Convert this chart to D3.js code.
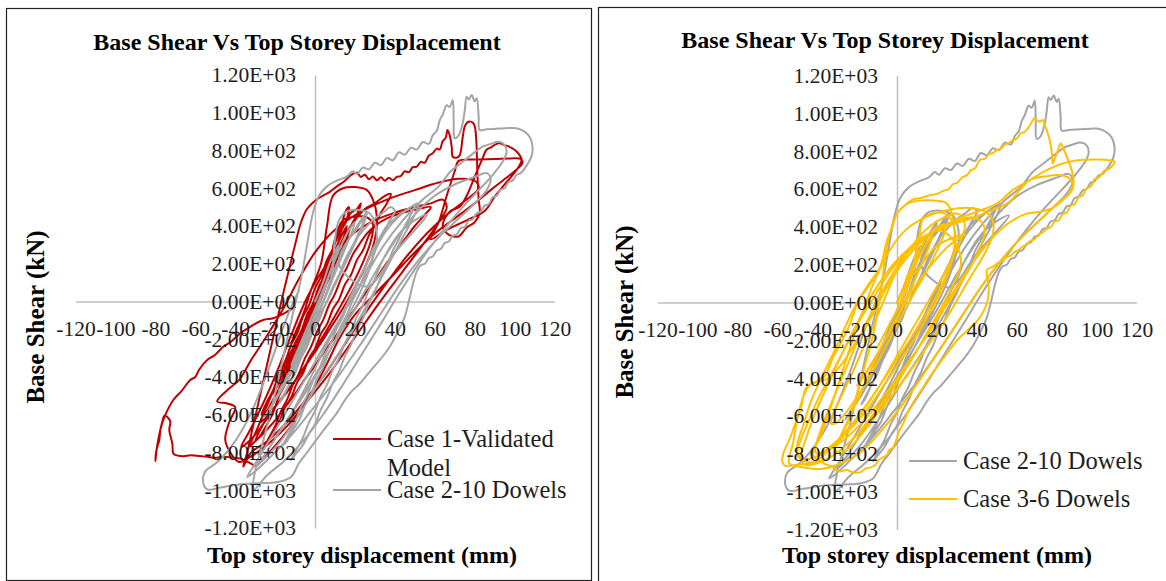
<!DOCTYPE html>
<html><head><meta charset="utf-8">
<script src="https://cdn.jsdelivr.net/npm/d3@7"></script>
<style>
body{margin:0;background:#fff}
svg{display:block}
text{font-family:"Liberation Serif","Times New Roman",serif}
</style>
</head><body>
<svg id="c" width="1166" height="581"></svg>
<script>
// ---------------- data ----------------
const chartTitle = "Base Shear Vs Top Storey Displacement";
const xAxisTitle = "Top storey displacement (mm)";
const yAxisTitle = "Base Shear (kN)";
const xTicks = [-120,-100,-80,-60,-40,-20,0,20,40,60,80,100,120];
const yTicks = [1200,1000,800,600,400,200,0,-200,-400,-600,-800,-1000,-1200];
const seriesNames = ["Case 1-Validated Model","Case 2-10 Dowels","Case 3-6 Dowels"];

// Case 1 - Validated Model (displacement mm, base shear kN)
const case1 = [
[0,0],[4,120],[8,250],[6,160],[0,0],[-6,-150],[-10,-260],[-6,-170],[0,-20],
[6,160],[12,320],[16,400],[13,300],[6,120],[-2,-80],[-10,-240],[-16,-360],[-20,-420],[-15,-330],[-8,-180],[0,0],
[3,90],[5,170],[8,240],[10,330],[13,390],[15,470],[17,500],[16,440],[13,370],[11,290],[8,230],[5,140],[2,80],[-1,-10],[-4,-70],[-7,-160],[-10,-220],[-13,-310],[-16,-370],[-19,-450],[-22,-500],[-25,-570],[-27,-600],[-24,-530],[-21,-470],[-18,-380],[-15,-320],[-12,-230],[-9,-170],[-6,-80],[-3,-20],[0,70],[3,130],[6,220],[9,280],[12,360],
[15,410],[18,470],[21,490],[23,520],[21,460],[18,400],[15,310],[12,250],[9,160],[6,100],[3,10],[0,-50],[-3,-140],[-6,-200],[-9,-290],[-12,-350],[-15,-440],[-18,-500],[-21,-590],[-24,-650],[-28,-720],[-30,-740],[-27,-670],[-24,-610],[-21,-520],[-18,-460],[-15,-370],[-12,-310],[-9,-220],[-6,-160],[-3,-70],[0,-10],[3,80],[6,140],[9,230],[12,290],[16,370],[20,430],[25,490],[30,520],[35,560],[38,570],
[36,520],[33,470],[30,400],[27,350],[24,270],[21,220],[18,140],[15,90],[12,10],[9,-40],[6,-120],[3,-170],[0,-250],[-3,-300],[-6,-380],[-9,-430],[-12,-510],[-15,-560],[-18,-640],[-21,-690],[-24,-750],[-26,-780],[-23,-720],[-20,-660],[-17,-580],[-14,-520],[-11,-440],[-8,-380],[-5,-300],[-2,-240],[1,-160],[4,-100],[7,-20],[10,40],[13,120],[16,180],[19,250],[22,300],[26,360],[30,400],[36,440],[44,470],[52,490],[58,500],
[55,460],[50,400],[45,330],[40,260],[35,190],[30,110],[25,40],[20,-40],[15,-110],[10,-190],[5,-260],[0,-340],[-5,-410],[-10,-490],[-15,-560],[-20,-630],[-25,-690],[-30,-740],[-33,-770],[-30,-700],[-26,-600],[-22,-500],[-18,-390],[-14,-290],[-10,-170],[-6,-70],[-2,60],
[3,200],[6,400],[9,560],[14,600],[20,606],[26,590],[29,540],[31,450],[30,330],[25,180],[16,0],[6,-170],[-4,-330],[-14,-480],[-22,-580],[-27,-640],[-23,-560],[-16,-420],[-9,-250],[-2,-60],[6,140],
[10,330],[14,430],[20,450],[26,446],[29,410],[28,320],[22,160],[12,-40],[2,-220],[-8,-390],[-18,-530],[-26,-650],[-32,-730],[-37,-770],[-33,-690],[-26,-540],[-19,-370],[-12,-180],[-4,20],[6,200],[16,330],[28,420],[40,470],[50,500],[58,520],[64,540],
[66,500],[62,420],[54,300],[44,160],[32,-10],[20,-190],[8,-370],[-4,-530],[-14,-660],[-24,-760],[-32,-820],[-38,-850],
[-43,-790],[-45,-730],[-43,-640],[-40,-560],[-44,-540],[-49,-530],[-44,-470],[-38,-415],[-32,-310],[-24,-180],[-16,-40],[-8,120],[0,260],[10,380],[22,470],[36,540],[50,590],[62,630],[72,650],[80,640],[82,600],[76,540],[66,460],[56,360],[46,240],[36,100],[26,-50],[16,-210],[6,-370],[-4,-510],[-14,-640],[-24,-740],[-32,-800],[-36,-875],[-34,-800],
[-31,-660],[-28,-520],[-25,-380],[-22,-240],[-19,-100],[-16,40],[-13,170],[-10,300],[-7,420],[-4,490],[-1,525],[3,555],[7,578],[11,610],[15,640],[18,670],[21,682],
[23,660],[25,672],[27,648],[29,662],[31,642],[33,658],[35,640],[37,655],[39,642],[41,660],[43,665],[45,690],[47,685],[49,712],[51,714],[53,740],[55,735],[57,772],[59,785],[61,810],[62.5,805],[64,850],[65.5,868],[66.4,909],[67.5,880],[68.5,820],[69,767],[71,762],[72.5,775],[74,870],[75,926],[76.5,950],[78,953],[79,948],[80,930],[80.8,856],[81.2,740],[81.5,644],[82,540],[82.5,468],[80,420],[76,392],[72,345],[69,345],[66,362],[64,396],[65,440],[68,480],[72.5,502],[76,560],[80,660],[84,760],[86,805],[88,815],[90,830],[92.5,838],[95,828],[97,822],[101,795],[103.5,752],[102,712],[99,670],[95,620],[90,555],[85,480],[76,430],[66,380],[58,330],
[62,420],[66,560],[70,690],[72,745],[80,752],[90,755],[98,758],[103,755],[104,735],[100,690],[94,640],[88,590],[80,520],[70,440],[60,360],[50,260],[40,150],[30,40],[20,-70],[12,-200],[6,-330],[0,-450],[-6,-560],[-12,-660],[-18,-740],[-23,-800],[-27,-840],[-29.5,-872],[-32.5,-856],[-37.5,-832],[-42,-826],[-46,-822],[-50,-828],[-54,-822],[-58,-818],[-62.5,-815],[-66,-820],[-70,-813],[-71,-805],[-71.5,-752],[-73,-681],[-72.5,-637],[-74,-612],[-75.5,-605],[-76.5,-637],[-77.5,-681],[-78,-734],[-79.5,-790],[-80,-845],[-79,-760],[-77,-660],[-75,-601],[-71,-522],[-67,-476],[-62.5,-416],[-60,-400],[-58,-360],[-54,-310],[-50,-282],[-46,-240],[-42,-212],[-37.5,-169],[-32.5,-134],[-26,-98],[-21,-89],[-15,-60],[-10,-30]
];

// Case 2 - 10 Dowels
const case2 = [
[0,0],[4,100],[8,220],[12,300],[9,200],[4,40],[-2,-120],[-8,-260],[-12,-340],[-8,-240],[-2,-90],[4,60],
[10,220],[16,360],[20,420],[17,330],[10,150],[2,-60],[-6,-240],[-14,-400],[-18,-470],[-13,-380],[-5,-200],[4,0],
[8,120],[11,200],[14,260],[17,330],[20,370],[23,420],[25,440],[23,390],[20,320],[17,260],[14,180],[11,120],[8,40],[5,-20],[2,-100],[-1,-160],[-4,-240],[-7,-300],[-10,-380],[-13,-440],[-16,-510],[-18,-540],[-15,-480],[-12,-420],[-9,-340],[-6,-280],[-3,-200],[0,-140],[3,-60],[6,0],[9,80],[12,140],[15,220],[18,280],[22,350],[26,400],[30,440],
[34,470],[38,500],[40,480],[37,420],[34,350],[31,290],[28,210],[25,150],[22,70],[19,10],[16,-70],[13,-130],[10,-210],[7,-270],[4,-350],[1,-410],[-2,-490],[-5,-550],[-8,-630],[-11,-680],[-14,-740],[-16,-760],[-13,-700],[-10,-640],[-7,-560],[-4,-500],[-1,-420],[2,-360],[5,-280],[8,-220],[11,-140],[14,-80],[17,0],[20,60],[23,140],[26,200],[29,280],[32,330],[36,400],[40,440],[45,480],[50,510],
[48,460],[45,400],[42,330],[39,270],[36,190],[33,130],[30,50],[27,-10],[24,-90],[21,-150],[18,-230],[15,-290],[12,-370],[9,-430],[6,-510],[3,-570],[0,-650],[-3,-700],[-6,-760],[-9,-800],[-12,-840],[-9,-780],[-6,-720],[-3,-640],[0,-580],[3,-500],[6,-440],[9,-360],[12,-300],[15,-220],[18,-160],[21,-80],[24,-20],[27,60],[30,120],[33,200],[36,260],[40,330],[44,380],[50,430],[56,460],
[40,260],[26,80],[12,200],[20,380],[26,470],[24,400],[16,220],[6,0],[-4,-220],[-14,-420],[-22,-560],[-26,-620],[-20,-520],[-10,-320],[0,-100],[8,120],
[10,330],[12,430],[16,478],[22,485],[27,470],[30,420],[31,340],[29,230],[24,80],[16,-90],[6,-290],[-4,-470],[-14,-630],[-20,-720],[-15,-650],[-6,-480],[4,-270],[14,-60],[22,120],[30,280],[36,380],[42,450],[48,500],
[52,520],[50,460],[44,340],[36,180],[26,-20],[14,-240],[2,-430],[-8,-600],[-18,-750],[-26,-840],[-30,-880],[-25,-810],[-16,-660],[-4,-460],[8,-250],[20,-40],[30,150],[40,320],[50,460],[60,560],[70,620],[80,660],[86,680],[88,650],[86,590],[80,520],[72,440],[62,340],[52,220],[42,80],[32,-80],[22,-240],[10,-420],[-2,-580],[-12,-710],[-22,-820],[-30,-900],[-34,-930],[-30,-860],[-22,-720],[-12,-540],[0,-320],[12,-100],[24,110],[34,290],[44,430],[54,540],[62,610],
[68,690],[74,740],[80,790],[84,820],[88,835],[92,846],[95,830],[96,790],[94,740],[89,670],[82,590],[74,500],[66,400],[58,290],[50,170],[42,40],[34,-100],[24,-270],[14,-440],[4,-600],[-6,-740],[-16,-850],[-24,-920],[-31,-1000],[-30,-900],[-27,-780],[-23,-620],[-19,-440],[-15,-250],[-11,-60],[-7,120],[-4,300],[-1,470],[2,560],[6,610],[11,640],[16,662],
[19,690],[21,675],[24,710],[27,700],[30,735],[33,722],[36,760],[39,748],[42,790],[45,778],[48,815],[51,805],[54,845],[57,835],[59,880],[61,905],[62.5,960],[64,990],[66,1040],[67.5,1030],[69,1068],[69.5,960],[70,865],[72,880],[74,944],[75,1010],[76,1085],[77,1070],[78.5,1094],[80,1060],[81,1077],[82,980],[82.5,909],[86,912],[92,916],[97,919],[101,918],[105,900],[107.5,873],[109,820],[108.5,770],[106,720],
[103,680],[101,672],[99,640],[97,633],[95,600],[93,592],[91,560],[89,552],[87,515],[85,508],[83,475],[81,468],[79,435],[77,428],[75,395],[73,388],[71,355],[69,348],[67,318],[65,310],[63,278],[61,270],[59,238],[57,230],[55,200],[53,192],[51,160],[49,90],[47,0],[45,-80],[42,-150],[38,-230],[34,-290],[30,-340],[26,-390],[22,-440],[18,-480],[14.5,-530],[11,-590],[7,-645],[3,-700],[-0.5,-750],[-4,-800],[-8,-856],[-12,-930],[-18,-955],[-26,-962],[-33,-965],[-40,-972],[-47,-985],[-54,-995],[-56,-960],[-55,-900],[-50,-860],[-46,-820],[-42,-770],[-37,-690],[-32,-590],[-28,-490],[-24,-380],[-20,-260],[-16,-140],[-12,-30],[-8,60]
];

// Case 3 - 6 Dowels
const case3 = [
[0,0],[5,120],[10,240],[8,160],[2,0],[-5,-140],[-10,-240],[-6,-160],[0,-40],
[6,120],[12,260],[18,360],[15,270],[8,100],[0,-80],[-8,-240],[-16,-380],[-20,-440],[-15,-360],[-6,-200],[2,-40],
[4,100],[8,200],[12,290],[16,360],[20,400],[23,410],[24,380],[22,320],[18,230],[13,130],[8,40],[3,-60],[-2,-160],[-7,-260],[-12,-360],[-17,-450],[-22,-530],[-27,-600],[-31,-640],[-33,-640],[-32,-590],[-29,-520],[-25,-430],[-21,-340],[-17,-240],[-13,-150],[-9,-50],[-5,50],[-1,150],[4,240],[9,320],[14,380],
[20,430],[26,460],[30,470],[33,450],[34,400],[32,330],[28,240],[23,140],[17,30],[11,-80],[5,-190],[-1,-300],[-7,-410],[-13,-510],[-19,-600],[-25,-680],[-31,-740],[-36,-780],[-40,-800],[-41,-770],[-39,-700],[-36,-610],[-32,-510],[-28,-410],[-24,-310],[-20,-210],[-15,-100],[-10,10],[-4,120],[2,220],[9,300],[16,360],
[24,410],[32,440],[38,450],[42,430],[44,380],[42,300],[37,190],[30,70],[22,-60],[14,-190],[6,-310],[-2,-430],[-10,-540],[-18,-640],[-26,-720],[-34,-780],[-42,-820],[-48,-830],[-50,-800],[-48,-720],[-44,-620],[-40,-520],[-35,-420],[-30,-320],[-25,-220],[-19,-100],[-12,20],[-5,140],[3,250],[12,340],
[22,380],[30,300],[32,200],[28,90],[22,-30],[15,-160],[8,-290],[1,-410],[-6,-520],[-12,-620],[-18,-700],[-23,-760],[-27,-790],[-30,-795],[-31,-770],[-28,-700],[-24,-610],[-19,-500],[-14,-380],[-9,-260],[-3,-140],[3,-20],[10,100],[18,210],[26,300],[34,360],
[20,300],[8,150],[11,330],[13,440],[18,472],[24,470],[27,440],[29,380],[29,300],[26,180],[20,40],[10,-140],[0,-300],[-10,-460],[-18,-580],[-24,-660],[-28,-700],[-24,-620],[-20,-480],[-16,-330],[-12,-170],[-9,0],[-7,150],[-5,300],[-2,420],[0,470],[4,515],[8,534],[14,540],[20,538],[24,530],[26.5,500],[28,440],[29,330],[27,200],[22,60],[14,-100],[4,-270],[-6,-430],[-16,-580],[-26,-700],[-34,-780],[-40,-830],[-42,-800],[-38,-700],[-34,-580],[-30,-450],[-26,-320],[-22,-190],[-17,-40],[-11,120],[-4,270],[4,380],[14,450],[26,490],[36,500],[44,480],[48,430],[48,360],[44,260],[36,120],[26,-60],[14,-250],[2,-430],[-10,-590],[-22,-720],[-32,-810],[-40,-850],[-46,-860],[-48,-820],[-45,-700],[-40,-560],[-34,-420],[-28,-280],[-20,-110],[-12,50],[-2,200],[10,320],[24,400],[36,440],[46,480],[56,530],[62,600],[66.5,647],[75,668],[82,673],[86,660],[88,630],[87,590],[83,540],[78,500],[72,480],[65,470],[56,420],[46,320],[36,180],[26,20],[16,-150],[6,-320],[-4,-480],[-14,-620],[-24,-740],[-34,-820],[-42,-845],[-48,-830],[-50,-760],[-47,-650],[-43,-520],[-38,-400],[-32,-270],[-26,-130],[-20,0],[-14,100],[-8.5,187],[-5,329],[-2,410],[0,470],[5,523],
[8,545],[12,552],[16,566],[20,574],[23,590],[26,600],[28,625],[30,632],[33,664],[35,672],[37,700],[39,708],[41.5,753],[44,760],[46,785],[48,790],[50,806],[52,812],[54,836],[56,842],[58,859],[60,866],[62,895],[64,902],[65,912],[67,945],[69,974],[70,965],[71.5,956],[73,965],[74,940],[75,912],[76.5,859],[77.5,800],[78,735],[79,760],[80.5,800],[82,841],[83.5,810],[85.5,760],[87.5,700],[88.5,640],[88,600],[86,570],[80,520],[72,440],[62,340],[52,220],[42,80],[32,-80],[22,-240],[12,-400],[2,-550],[-8,-680],[-18,-790],[-28,-850],[-38,-880],[-48,-870],[-54,-850],[-52,-740],[-50,-620],[-47,-500],[-44,-440],[-40,-420],[-35,-403],[-28,-330],[-20,-200],[-12,-60],[-4,100],[6,250],[18,370],[30,440],[40,480],[50,523],[58,594],[66.5,647],[75,700],[83,735],[91.5,753],[101.5,756],[106,752],[109,744],
[106,705],[104,698],[101,660],[99,652],[97,612],[95,604],[93,566],[91,558],[89,520],[87,512],[85,475],[83,468],[81,435],[79,428],[77,398],[75,390],[73,370],[71,360],[69,335],[67,327],[65,305],[63,297],[61,278],[59,268],[57,248],[55,240],[53,222],[51,214],[49,196],[47,185],[45,170],[46,80],[45,-5],[40,-100],[35,-150],[30,-201],[25,-270],[20,-340],[16,-400],[12,-466],[8,-530],[5,-590],[3,-643],[1,-680],[0,-714],[-2,-767],[-4,-780],[-5,-805],[-7,-820],[-9,-830],[-11,-860],[-13.5,-873],[-16,-878],[-18,-895],[-22,-899],[-25,-885],[-28,-892],[-30,-890],[-33,-865],[-36,-855],[-38.5,-837],[-43,-850],[-48.5,-855],[-53,-862],[-56,-864],[-57.5,-840],[-57,-800],[-55.5,-760],[-53.5,-714],[-51,-640],[-48.5,-572],[-47,-500],[-46,-460],[-43,-430],[-37,-400],[-32,-290],[-28,-210],[-25,-148],[-22,-70],[-20,-7],[-16,60],[-12,120]
];

const colors = {case1:"#C00000", case2:"#A5A5A5", case3:"#FFC000"};

// ---------------- drawing ----------------
const svg = d3.select("#c");
function fmt(v){
  if (v === 0) return "0.00E+00";
  const s = v < 0 ? "-" : "";
  const a = Math.abs(v);
  const e = Math.floor(Math.log10(a));
  const m = a / Math.pow(10, e);
  return s + m.toFixed(2) + "E+" + String(e).padStart(2, "0");
}

const panels = [
  {frame:[6.5,8.5,585,572], cx:315, cy:301.5, hy:226.5, titleX:297, titleY:50,
   yTitleX:44, yTitleY:317, xTitleX:362, xTitleY:563,
   series:[{data:case1,color:colors.case1},{data:case2,color:colors.case2}],
   legend:[{y:439, ty:447, lines:["Case 1-Validated","Model"], color:colors.case1},
           {y:490, ty:498, lines:[seriesNames[1]], color:colors.case2}],
   legX:333},
  {frame:[598.5,7.5,600,580], cx:897, cy:302.5, hy:227, titleX:885, titleY:48,
   yTitleX:633, yTitleY:312, xTitleX:937, xTitleY:563,
   series:[{data:case2,color:colors.case2},{data:case3,color:colors.case3}],
   legend:[{y:461, ty:469, lines:[seriesNames[1]], color:colors.case2},
           {y:499, ty:506.5, lines:[seriesNames[2]], color:colors.case3}],
   legX:909}
];

panels.forEach(p => {
  const g = svg.append("g");
  g.append("rect").attr("x",p.frame[0]).attr("y",p.frame[1]).attr("width",p.frame[2]).attr("height",p.frame[3])
    .attr("fill","#fff").attr("stroke","#222").attr("stroke-width",1.2);

  const x = d3.scaleLinear().domain([-120,120]).range([p.cx-239.5, p.cx+239.5]);
  const y = d3.scaleLinear().domain([-1200,1200]).range([p.cy+p.hy, p.cy-p.hy]);

  // axis lines (below series)
  const axL = g.append("g");
  axL.append("g").attr("transform",`translate(${x(0)},0)`)
    .call(d3.axisLeft(y).tickValues(yTicks).tickSize(0).tickSizeOuter(0).tickFormat(""))
    .call(s => s.selectAll(".tick").remove())
    .select(".domain").attr("stroke","#BFBFBF").attr("stroke-width",1.5);
  axL.append("g").attr("transform",`translate(0,${y(0)})`)
    .call(d3.axisBottom(x).tickValues(xTicks).tickSize(0).tickSizeOuter(0).tickFormat(""))
    .call(s => s.selectAll(".tick").remove())
    .select(".domain").attr("stroke","#BFBFBF").attr("stroke-width",1.5);

  // series
  const line = d3.line().x(d => x(d[0])).y(d => y(d[1])).curve(d3.curveCatmullRom.alpha(0.5));
  p.series.forEach(s => {
    g.append("path").datum(s.data).attr("d", line)
      .attr("fill","none").attr("stroke", s.color).attr("stroke-width", 2)
      .attr("stroke-linejoin","round").attr("stroke-linecap","round");
  });

  // tick labels (above series)
  const ya = g.append("g").attr("transform",`translate(${x(0)},0)`)
    .call(d3.axisLeft(y).tickValues(yTicks).tickSize(0).tickPadding(19).tickFormat(fmt));
  ya.select(".domain").remove();
  ya.selectAll("text").attr("font-size","21.5px").attr("fill","#1e1e1e").attr("font-family",null);
  const xa = g.append("g").attr("transform",`translate(0,${y(0)})`)
    .call(d3.axisBottom(x).tickValues(xTicks).tickSize(0).tickPadding(19).tickFormat(d => String(d)));
  xa.select(".domain").remove();
  xa.selectAll("text").attr("font-size","21.5px").attr("fill","#1e1e1e").attr("font-family",null);

  // titles
  g.append("text").attr("x",p.titleX).attr("y",p.titleY).attr("text-anchor","middle")
    .attr("font-size","24px").attr("font-weight","bold").attr("fill","#000").text(chartTitle);
  g.append("text").attr("x",p.xTitleX).attr("y",p.xTitleY).attr("text-anchor","middle")
    .attr("font-size","24px").attr("font-weight","bold").attr("fill","#000").text(xAxisTitle);
  g.append("text").attr("transform",`translate(${p.yTitleX},${p.yTitleY}) rotate(-90)`).attr("text-anchor","middle")
    .attr("font-size","25px").attr("font-weight","bold").attr("fill","#000").text(yAxisTitle);

  // legend
  p.legend.forEach(it => {
    g.append("line").attr("x1",p.legX).attr("x2",p.legX+48).attr("y1",it.y).attr("y2",it.y)
      .attr("stroke",it.color).attr("stroke-width",2);
    it.lines.forEach((t,i) => {
      g.append("text").attr("x",p.legX+54).attr("y",it.ty + i*29)
        .attr("font-size","24.5px").attr("fill","#1e1e1e").text(t);
    });
  });
});
</script>
</body></html>
